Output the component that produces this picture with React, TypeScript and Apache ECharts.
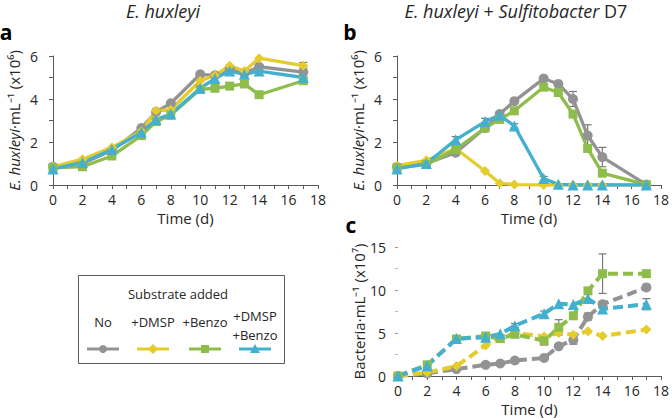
import React, { useEffect, useRef } from "react";
import * as echarts from "echarts";

const days = [0, 2, 4, 6, 7, 8, 10, 11, 12, 13, 14, 17];
const seriesNames = ["No", "+DMSP", "+Benzo", "+DMSP +Benzo"];

// Panel a: E. huxleyi alone (x10^6 cells/mL)
const aNo = [0.85, 1.0, 1.6, 2.65, 3.4, 3.8, 5.15, 5.1, 5.4, 5.2, 5.5, 5.25];
const aDmsp = [0.85, 1.2, 1.75, 2.5, 3.45, 3.5, 4.85, 5.1, 5.55, 5.3, 5.9, 5.55];
const aBenzo = [0.8, 0.85, 1.35, 2.3, 2.95, 3.25, 4.45, 4.5, 4.6, 4.7, 4.2, 4.85];
const aBoth = [0.75, 1.05, 1.65, 2.45, 3.05, 3.3, 4.5, 4.95, 5.3, 5.15, 5.3, 5.0];
const aNoErr = [0, 0, 0, 0, 0, 0, 0, 0, 0, 0, 0.1, 0.25];
const aDmspErr = [0, 0, 0, 0, 0, 0, 0, 0, 0, 0, 0, 0.15];
const aBenzoErr = [0, 0, 0, 0, 0, 0, 0, 0, 0, 0, 0, 0.15];
const aBothErr = [0, 0, 0, 0, 0, 0, 0, 0, 0, 0, 0, 0];

// Panel b: E. huxleyi + Sulfitobacter D7 (x10^6 cells/mL)
const bNo = [0.85, 1.0, 1.5, 2.65, 3.3, 3.9, 4.95, 4.7, 4.0, 2.3, 1.3, 0.02];
const bDmsp = [0.9, 1.15, 1.7, 0.65, 0.08, 0.02, 0.0, 0.0, 0.0, 0.0, 0.0, 0.0];
const bBenzo = [0.8, 0.95, 1.65, 2.65, 3.05, 3.45, 4.55, 4.3, 3.3, 1.7, 0.55, 0.02];
const bBoth = [0.75, 1.0, 2.1, 2.95, 3.25, 2.75, 0.3, 0.03, 0.0, 0.0, 0.0, 0.0];
const bNoErr = [0, 0, 0, 0, 0, 0, 0.05, 0.1, 0.35, 0.5, 0.45, 0];
const bDmspErr = [0, 0, 0, 0, 0, 0, 0, 0, 0, 0, 0, 0];
const bBenzoErr = [0, 0, 0, 0, 0, 0, 0, 0, 0, 0, 0, 0];
const bBothErr = [0, 0, 0.15, 0.15, 0, 0.1, 0.1, 0, 0, 0, 0, 0];

// Panel c: Bacteria (x10^7 cells/mL)
const cNo = [0, 0.3, 0.8, 1.3, 1.45, 1.8, 2.1, 3.45, 4.2, 6.9, 8.35, 10.3];
const cDmsp = [0, 0.4, 1.15, 3.55, 4.4, 5.0, 4.6, 5.0, 4.8, 5.2, 4.65, 5.4];
const cBenzo = [0, 1.3, 4.3, 4.65, 4.35, 4.85, 4.1, 5.65, 7.0, 9.9, 11.9, 11.9];
const cBoth = [0, 1.2, 4.35, 4.5, 4.9, 5.85, 7.25, 8.4, 8.3, 9.0, 7.8, 8.35];
const cNoErr = [0, 0, 0, 0, 0, 0, 0, 0, 0.5, 0.4, 0.3, 0.3];
const cDmspErr = [0, 0, 0, 0, 0, 0, 0, 0, 0, 0, 0, 0];
const cBenzoErr = [0, 0, 0, 0, 0, 0, 0.5, 0.9, 0.3, 0, 2.3, 0];
const cBothErr = [0, 0, 0, 0, 0, 0.25, 0.3, 0, 0, 0, 0, 0.65];

const xTicks = [0, 2, 4, 6, 8, 10, 12, 14, 16, 18];

const COLORS = ["#939393", "#e4cc2c", "#8fbd4c", "#43b0d0"];
const SYMBOLS = ["circle", "diamond", "rect", "triangle"];
const FONT = "Open Sans";
const FS = 14;
const NAME_FS = 15;
const AXIS_COLOR = "#5a5a5a";
const TEXT_COLOR = "#262626";

function pair(vals: number[]) {
  return days.map((d, i) => [d, vals[i]]);
}
function errPairs(vals: number[], errs: number[]) {
  return days.map((d, i) => [d, vals[i], errs[i]]).filter((p) => p[2] > 0);
}

export default function App() {
  const ref = useRef<HTMLDivElement>(null);
  useEffect(() => {
    if (!ref.current) return;
    const chart = echarts.init(ref.current, null, { renderer: "svg" });

    const grids = [
      { left: 53, top: 56, width: 265, height: 129 },
      { left: 397, top: 56, width: 267, height: 129 },
      { left: 398, top: 247, width: 267, height: 129 },
    ];

    const xAxis = grids.map((_, gi) => ({
      type: "value",
      gridIndex: gi,
      min: 0,
      max: 18,
      interval: 2,
      name: "Time (d)",
      nameLocation: "middle",
      nameGap: 25,
      nameTextStyle: { fontFamily: FONT, fontSize: NAME_FS, color: TEXT_COLOR },
      axisLine: { show: true, lineStyle: { color: AXIS_COLOR, width: 1 } },
      axisTick: { show: true, length: 4, lineStyle: { color: AXIS_COLOR } },
      minorTick: { show: true, splitNumber: 2, length: 4, lineStyle: { color: AXIS_COLOR } },
      axisLabel: {
        fontFamily: FONT,
        fontSize: FS,
        color: TEXT_COLOR,
        margin: 7,
        formatter: (v: number) => (xTicks.includes(v) ? String(v) : ""),
      },
      splitLine: { show: false },
    }));

    const yName = "{i|E. huxleyi}·mL⁻¹ (x10⁶)";
    const yRich = { i: { fontStyle: "italic", fontFamily: FONT, fontSize: NAME_FS, color: TEXT_COLOR } };
    const mkY = (gi: number) => ({
      type: "value",
      gridIndex: gi,
      min: 0,
      max: 6,
      interval: 2,
      name: yName,
      nameLocation: "middle",
      nameGap: 32,
      nameTextStyle: { fontFamily: FONT, fontSize: NAME_FS, color: TEXT_COLOR, rich: yRich },
      axisLine: { show: true, lineStyle: { color: AXIS_COLOR } },
      axisTick: { show: true, length: 4, lineStyle: { color: AXIS_COLOR } },
      minorTick: { show: true, splitNumber: 2, length: 4, lineStyle: { color: AXIS_COLOR } },
      axisLabel: { fontFamily: FONT, fontSize: FS, color: TEXT_COLOR, margin: 15 },
      splitLine: { show: false },
    });
    const yAxis = [
      mkY(0),
      mkY(1),
      {
        type: "value",
        gridIndex: 2,
        min: 0,
        max: 15,
        interval: 5,
        name: "Bacteria·mL⁻¹ (x10⁷)",
        nameLocation: "middle",
        nameGap: 30,
        nameTextStyle: { fontFamily: FONT, fontSize: NAME_FS, color: TEXT_COLOR },
        axisLine: { show: false },
        axisTick: { show: true, length: 3, lineStyle: { color: "#999" } },
        minorTick: { show: true, splitNumber: 2, length: 3, lineStyle: { color: "#bbb" } },
        axisLabel: { fontFamily: FONT, fontSize: FS, color: TEXT_COLOR, margin: 12 },
        splitLine: { show: false },
      },
    ];

    const panels = [
      { vals: [aNo, aDmsp, aBenzo, aBoth], errs: [aNoErr, aDmspErr, aBenzoErr, aBothErr], dashed: false },
      { vals: [bNo, bDmsp, bBenzo, bBoth], errs: [bNoErr, bDmspErr, bBenzoErr, bBothErr], dashed: false },
      { vals: [cNo, cDmsp, cBenzo, cBoth], errs: [cNoErr, cDmspErr, cBenzoErr, cBothErr], dashed: true },
    ];

    const series: any[] = [];
    panels.forEach((p, pi) => {
      p.vals.forEach((v, si) => {
        series.push({
          type: "custom",
          name: seriesNames[si] + " err",
          xAxisIndex: pi,
          yAxisIndex: pi,
          z: 1,
          data: errPairs(v, p.errs[si]),
          renderItem: (params: any, api: any) => {
            const x = api.value(0);
            const y = api.value(1);
            const e = api.value(2);
            const top = api.coord([x, y + e]);
            const bot = api.coord([x, Math.max(0, y - e)]);
            const c = 4;
            const st = { stroke: "#7a7a7a", lineWidth: 1.2 };
            return {
              type: "group",
              children: [
                { type: "line", shape: { x1: top[0], y1: top[1], x2: bot[0], y2: bot[1] }, style: st },
                { type: "line", shape: { x1: top[0] - c, y1: top[1], x2: top[0] + c, y2: top[1] }, style: st },
                { type: "line", shape: { x1: bot[0] - c, y1: bot[1], x2: bot[0] + c, y2: bot[1] }, style: st },
              ],
            };
          },
        });
      });
      p.vals.forEach((v, si) => {
        series.push({
          type: "line",
          name: seriesNames[si],
          xAxisIndex: pi,
          yAxisIndex: pi,
          z: 2,
          data: pair(v),
          symbol: SYMBOLS[si],
          symbolSize: si === 2 ? 9 : si === 3 ? 11 : 10,
          showSymbol: true,
          lineStyle: {
            color: COLORS[si],
            width: p.dashed ? 4 : 3.3,
            type: p.dashed ? [10, 5] : "solid",
          },
          itemStyle: { color: COLORS[si], borderWidth: 0 },
        });
      });
    });

    const legCx = [103, 153, 205, 255];
    const legY = 349;
    const txt = (x: number, y: number, text: string, extra: any = {}) => ({
      type: "text",
      x,
      y,
      style: { text, fontFamily: FONT, fontSize: 13, fill: TEXT_COLOR, align: "center", verticalAlign: "middle", ...extra },
    });
    const legendGraphics: any[] = [
      {
        type: "rect",
        shape: { x: 78.5, y: 275.5, width: 206, height: 88 },
        style: { fill: "none", stroke: "#595959", lineWidth: 1 },
      },
      txt(178, 294, "Substrate added"),
      txt(legCx[0], 322, "No"),
      txt(legCx[1], 322, "+DMSP"),
      txt(legCx[2], 322, "+Benzo"),
      txt(legCx[3], 325, "+DMSP\n+Benzo", { lineHeight: 19 }),
    ];
    legCx.forEach((cx, i) => {
      legendGraphics.push({
        type: "line",
        shape: { x1: cx - 16, y1: legY, x2: cx + 16, y2: legY },
        style: { stroke: COLORS[i], lineWidth: 3 },
      });
    });
    legendGraphics.push({ type: "circle", shape: { cx: legCx[0], cy: legY, r: 4 }, style: { fill: COLORS[0] } });
    legendGraphics.push({
      type: "polygon",
      shape: { points: [[legCx[1], legY - 5], [legCx[1] + 5, legY], [legCx[1], legY + 5], [legCx[1] - 5, legY]] },
      style: { fill: COLORS[1] },
    });
    legendGraphics.push({ type: "rect", shape: { x: legCx[2] - 4, y: legY - 4, width: 8, height: 8 }, style: { fill: COLORS[2] } });
    legendGraphics.push({
      type: "polygon",
      shape: { points: [[legCx[3], legY - 5], [legCx[3] + 5, legY + 4], [legCx[3] - 5, legY + 4]] },
      style: { fill: COLORS[3] },
    });

    const titleGraphics: any[] = [
      txt(163, 11, "E. huxleyi", { fontSize: 18, fontStyle: "italic" }),
      txt(516, 11, "{i|E. huxleyi} + {i|Sulfitobacter} D7", {
        fontSize: 18,
        rich: { i: { fontStyle: "italic", fontFamily: FONT, fontSize: 18, fill: TEXT_COLOR } },
      }),
      txt(6, 32, "a", { fontSize: 21, fontWeight: "bold", fill: "#000" }),
      txt(350, 32, "b", { fontSize: 21, fontWeight: "bold", fill: "#000" }),
      txt(351, 225, "c", { fontSize: 21, fontWeight: "bold", fill: "#000" }),
    ];

    chart.setOption({
      animation: false,
      backgroundColor: "#ffffff",
      grid: grids,
      xAxis,
      yAxis,
      series,
      graphic: [...titleGraphics, ...legendGraphics],
    });
    return () => chart.dispose();
  }, []);

  return <div ref={ref} style={{ position: "absolute", left: 0, top: 0, width: 672, height: 418 }} />;
}
